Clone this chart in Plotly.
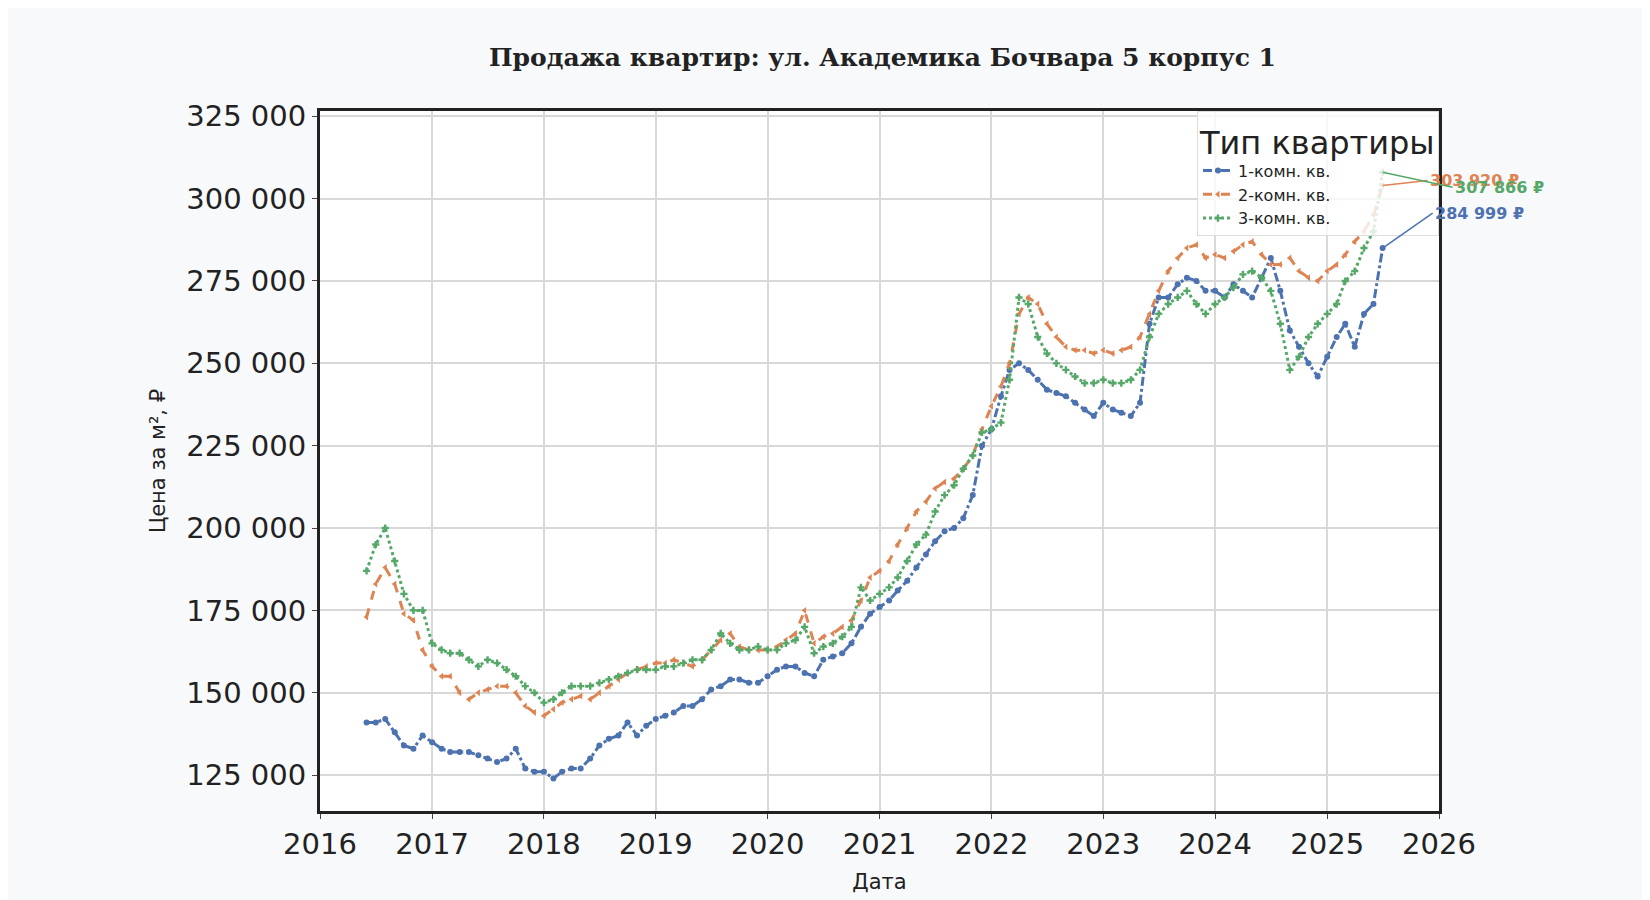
import plotly.graph_objects as go
import pandas as pd

months = pd.date_range("2016-06-01", "2025-07-01", freq="MS").strftime("%Y-%m-%d").tolist()

one_room = [141,141,142,138,134,133,137,
 135,133,132,132,132,131,130,129,130,133,127,126,
 126,124,126,127,127,130,134,136,137,141,137,140,
 142,143,144,146,146,148,151,152,154,154,153,153,
 155,157,158,158,156,155,160,161,162,165,170,174,
 176,178,181,184,188,192,196,199,200,203,210,225,
 230,240,248,250,248,245,242,241,240,238,236,234,
 238,236,235,234,238,262,270,270,274,276,275,272,
 272,270,274,272,270,276,282,272,260,255,250,246,
 252,258,262,255,265,268,285]
two_room = [173,183,188,183,174,172,163,
 158,155,155,150,148,150,151,152,152,150,146,144,
 143,145,147,148,149,148,150,152,154,156,157,158,
 159,159,160,159,158,160,163,166,168,164,163,163,
 163,164,166,168,175,165,167,168,170,172,178,185,
 187,190,195,200,205,208,212,214,215,218,222,230,
 237,243,250,265,270,268,262,258,255,254,254,253,
 254,253,254,255,258,265,272,278,282,285,286,282,
 283,282,284,286,287,283,280,280,282,278,276,275,
 278,280,283,287,290,295,304]
three_room = [187,195,200,190,180,175,175,
 165,163,162,162,160,158,160,159,157,155,152,150,
 147,148,150,152,152,152,153,154,155,156,157,157,
 157,158,158,159,160,160,163,168,165,163,163,164,
 163,163,165,166,170,162,164,165,167,170,182,178,
 180,182,185,190,195,198,205,210,213,218,222,229,
 230,232,245,270,268,258,253,250,248,246,244,244,
 245,244,244,245,248,258,265,268,270,272,268,265,
 268,270,273,277,278,276,272,262,248,252,258,262,
 265,268,275,278,285,290,308]
last_labels = ["284 999 ₽", "303 920 ₽", "307 866 ₽"]

y_ticks = [125000,150000,175000,200000,225000,250000,275000,300000,325000]
y_text = ["125 000","150 000","175 000","200 000","225 000","250 000","275 000","300 000","325 000"]
x_years = [str(y) for y in range(2016, 2027)]

series = [
    ("1-комн. кв.", one_room, "#4c72b0", "dashdot", "circle"),
    ("2-комн. кв.", two_room, "#dd8452", "dash", "triangle-left"),
    ("3-комн. кв.", three_room, "#55a868", "dot", "cross"),
]
fig = go.Figure()
for name, vals, col, dash, sym in series:
    fig.add_trace(go.Scatter(x=months, y=[v*1000 for v in vals], name=name,
        mode="lines+markers", line=dict(color=col, width=3, dash=dash),
        marker=dict(symbol=sym, size=6, color=col)))

offs = [(50, -35), (45, -5), (70, 15)]
for (name, vals, col, _, _), lab, (ax, ay) in zip(series, last_labels, offs):
    fig.add_annotation(x=months[-1], y=vals[-1]*1000, text="<b>"+lab+"</b>",
        showarrow=True, arrowcolor=col, arrowwidth=1.5, ax=ax, ay=ay,
        font=dict(color=col, size=16), xanchor="left")

fig.update_layout(
    width=1650, height=900, paper_bgcolor="#f8f9fb", plot_bgcolor="white",
    margin=dict(l=312, r=219, t=103, b=97),
    title=dict(text="<b>Продажа квартир: ул. Академика Бочвара 5 корпус 1</b>", x=0.53, y=0.955,
               font=dict(family="DejaVu Serif", size=25, color="#222")),
    font=dict(family="DejaVu Sans", color="#222"),
    showlegend=True,
    legend=dict(title=dict(text="Тип квартиры", font=dict(size=32)), x=1, y=1, xanchor="right", yanchor="top",
                bgcolor="rgba(255,255,255,0.8)", bordercolor="#ddd", borderwidth=1, font=dict(size=16)),
    xaxis=dict(range=["2016-01-01", "2026-01-01"], tickvals=[y+"-01-01" for y in x_years], ticktext=x_years,
               tickfont=dict(size=29), showgrid=True, gridcolor="#d8d8d8", gridwidth=1.5,
               showline=True, linecolor="#222", linewidth=3, mirror=True, ticks="outside", ticklen=5,
               title=dict(text="Дата", font=dict(size=21))),
    yaxis=dict(range=[114100, 326600], tickvals=y_ticks, ticktext=y_text, tickfont=dict(size=29),
               showgrid=True, gridcolor="#d8d8d8", gridwidth=1.5,
               showline=True, linecolor="#222", linewidth=3, mirror=True, ticks="outside", ticklen=5,
               title=dict(text="Цена за м², ₽", font=dict(size=21))),
)
fig.write_html("out.html")
